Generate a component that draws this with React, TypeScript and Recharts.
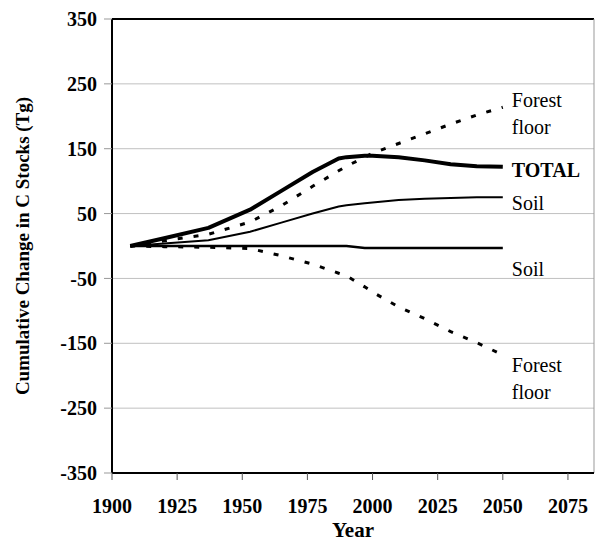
import { LineChart, Line, XAxis, YAxis, CartesianGrid, ReferenceLine, Label } from 'recharts'

const years = [1907, 1920, 1937, 1953, 1965, 1977, 1987, 1990, 1997, 2000, 2010, 2020, 2030, 2040, 2050]
const total = [0, 12, 28, 56, 85, 114, 135, 137, 139, 139, 137, 132, 126, 123, 122]
const soilUpper = [0, 4, 9, 22, 36, 50, 61, 63, 66, 67, 71, 73, 74, 75, 75]
const soilLower = [0, 0, 0, 0, 0, 0, 0, 0, -3, -3, -3, -3, -3, -3, -3]
const floorUpper = [0, 8, 18, 37, 62, 92, 116, 123, 137, 143, 158, 173, 188, 202, 214]
const floorLower = [0, -1, -2, -4, -15, -28, -42, -46, -63, -71, -94, -112, -132, -149, -168]

const xTicks = [1900, 1925, 1950, 1975, 2000, 2025, 2050, 2075]
const yTicks = [-350, -250, -150, -50, 50, 150, 250, 350]

const data = years.map((year, i) => ({
  year,
  total: total[i],
  soilUpper: soilUpper[i],
  soilLower: soilLower[i],
  floorUpper: floorUpper[i],
  floorLower: floorLower[i],
}))

const serif = '"Liberation Serif", "Times New Roman", serif'

// text next to the last point of a line
function endLabel(lines: string[], dys: number[], bold = false) {
  return (props: any) => {
    if (props.index !== years.length - 1) return null
    const x = (props.x ?? props.viewBox?.x) + 9
    const y = props.y ?? props.viewBox?.y
    return (
      <g>
        {lines.map((t, i) => (
          <text
            key={t + i}
            x={x}
            y={y + dys[i]}
            fontFamily={serif}
            fontSize={20}
            fontWeight={bold ? 'bold' : 'normal'}
            fill="#000"
          >
            {t}
          </text>
        ))}
      </g>
    )
  }
}

export default function App() {
  return (
    <div style={{ position: 'absolute', left: 0, top: 0, background: '#fff' }}>
      <LineChart width={595} height={543} data={data} margin={{ top: 19, right: 1, left: 0, bottom: 0 }}>
        <CartesianGrid horizontal vertical={false} stroke="#c0c0c0" />
        <XAxis
          dataKey="year"
          type="number"
          domain={[1900, 2085]}
          ticks={xTicks}
          height={70}
          tickSize={7}
          tickMargin={19}
          axisLine={{ stroke: '#000', strokeWidth: 2 }}
          tickLine={{ stroke: '#555' }}
          tick={{ fontSize: 20, fontWeight: 'bold', fill: '#000', fontFamily: serif }}
        >
          <Label
            content={(p: any) => (
              <text
                x={p.viewBox.x + p.viewBox.width / 2}
                y={537}
                textAnchor="middle"
                fontFamily={serif}
                fontSize={21}
                fontWeight="bold"
              >
                Year
              </text>
            )}
          />
        </XAxis>
        <YAxis
          type="number"
          domain={[-350, 350]}
          ticks={yTicks}
          width={112}
          tickSize={8}
          tickMargin={7}
          axisLine={{ stroke: '#000', strokeWidth: 2 }}
          tickLine={{ stroke: '#999' }}
          tick={{ fontSize: 20, fontWeight: 'bold', fill: '#000', fontFamily: serif }}
        >
          <Label
            content={(p: any) => {
              const cy = p.viewBox.y + p.viewBox.height / 2
              return (
                <text
                  x={22}
                  y={cy}
                  transform={`rotate(-90, 22, ${cy})`}
                  textAnchor="middle"
                  dominantBaseline="central"
                  fontFamily={serif}
                  fontSize={19}
                  fontWeight="bold"
                >
                  Cumulative Change in C Stocks (Tg)
                </text>
              )
            }}
          />
        </YAxis>
        <ReferenceLine y={350} stroke="#000" strokeWidth={2} />
        <ReferenceLine x={2085} stroke="#999" strokeWidth={1} />
        <Line
          dataKey="floorUpper"
          stroke="#000"
          strokeWidth={3}
          strokeDasharray="5 11"
          dot={false}
          activeDot={false}
          isAnimationActive={false}
          label={endLabel(['Forest', 'floor'], [0, 27])}
        />
        <Line
          dataKey="floorLower"
          stroke="#000"
          strokeWidth={3}
          strokeDasharray="5 11"
          dot={false}
          activeDot={false}
          isAnimationActive={false}
          label={endLabel(['Forest', 'floor'], [17, 44])}
        />
        <Line
          dataKey="soilLower"
          stroke="#000"
          strokeWidth={2.5}
          dot={false}
          activeDot={false}
          isAnimationActive={false}
          label={endLabel(['Soil'], [28])}
        />
        <Line
          dataKey="soilUpper"
          stroke="#000"
          strokeWidth={2}
          dot={false}
          activeDot={false}
          isAnimationActive={false}
          label={endLabel(['Soil'], [13])}
        />
        <Line
          dataKey="total"
          stroke="#000"
          strokeWidth={4}
          strokeLinejoin="round"
          dot={false}
          activeDot={false}
          isAnimationActive={false}
          label={endLabel(['TOTAL'], [10], true)}
        />
      </LineChart>
    </div>
  )
}
